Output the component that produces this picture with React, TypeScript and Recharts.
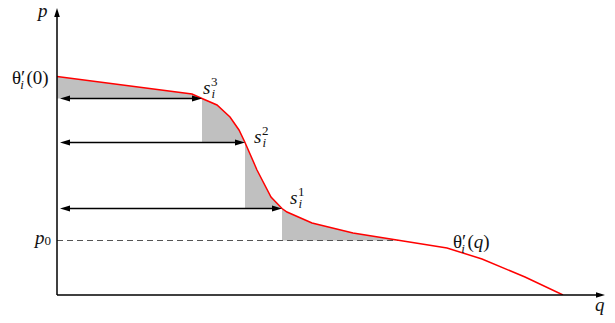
import React from 'react';
import { ComposedChart, Area, Line, XAxis, YAxis, ReferenceLine, ReferenceDot } from 'recharts';

// marginal valuation curve θ'_i(q), sampled along q
const CURVE_Q = [0, 2.7, 2.9, 3.2, 3.46, 3.64, 3.76, 4.0, 4.28, 4.5, 4.6, 5.1, 5.92, 6.86, 7.8, 8.5, 9.36, 10.12];
const CURVE_P = [4.37, 4.02, 3.93, 3.8, 3.56, 3.3, 3.05, 2.5, 1.96, 1.73, 1.66, 1.44, 1.24, 1.09, 0.94, 0.72, 0.36, 0];

// bid steps s_i^1, s_i^2, s_i^3
const STEP_Q = [4.5, 3.76, 2.9];
const STEP_P = [1.73, 3.05, 3.93];
const STEP_NAMES = ['1', '2', '3'];

const P0 = 1.09;
const Q_MAX = 10.96;
const P_MAX = 5.74;

const FONT = "'Times New Roman', Times, 'Liberation Serif', 'DejaVu Serif', serif";
const LABEL_OFFSETS = [[8, -5], [9, 0], [1, -5]];

// q where the curve meets p0
const p0Q = CURVE_Q[CURVE_P.findIndex((p) => p <= P0)];

// shaded strips between the curve and each step level
const bands: { from: number; to: number; base: number }[] = [];
let from = 0;
[2, 1, 0].forEach((i) => {
  bands.push({ from, to: STEP_Q[i], base: STEP_P[i] });
  from = STEP_Q[i];
});
bands.push({ from, to: p0Q, base: P0 });

const data = CURVE_Q.map((q, i) => {
  const row: any = { q, p: CURVE_P[i] };
  bands.forEach((b, k) => {
    if (q >= b.from - 1e-9 && q <= b.to + 1e-9) row[`band${k}`] = [b.base, CURVE_P[i]];
  });
  return row;
});

const head = (tx: number, ty: number, ux: number, uy: number, len: number, half: number) => {
  const bx = tx - ux * len;
  const by = ty - uy * len;
  return `${tx},${ty} ${bx - uy * half},${by + ux * half} ${bx + uy * half},${by - ux * half}`;
};

const ArrowLine = (props: any) => {
  const { x1, y1, x2, y2, both, width = 1.3, len = 10, half = 3, inset = 0 } = props;
  const d = Math.hypot(x2 - x1, y2 - y1) || 1;
  const ux = (x2 - x1) / d;
  const uy = (y2 - y1) / d;
  const sx = x1 + ux * inset;
  const sy = y1 + uy * inset;
  return (
    <g>
      <line
        x1={both ? sx + ux * (len - 2) : x1}
        y1={both ? sy + uy * (len - 2) : y1}
        x2={x2 - ux * (len - 2)}
        y2={y2 - uy * (len - 2)}
        stroke="#000"
        strokeWidth={width}
      />
      <polygon points={head(x2, y2, ux, uy, len, half)} fill="#000" />
      {both && <polygon points={head(sx, sy, -ux, -uy, len, half)} fill="#000" />}
    </g>
  );
};

const ital = { fontStyle: 'italic' as const };

const TextAt = ({ cx, cy, dx, dy, children }: any) => (
  <text x={cx + dx} y={cy + dy} fontFamily={FONT} fontSize={19} fill="#111">
    {children}
  </text>
);

const Theta = ({ arg, italicArg }: { arg: string; italicArg?: boolean }) => (
  <>
    <tspan>θ</tspan>
    <tspan>′</tspan>
    <tspan dx={-5} dy={5} fontSize={13} style={ital}>i</tspan>
    <tspan dx={2.5} dy={-5}>(</tspan>
    <tspan style={italicArg ? ital : undefined}>{arg}</tspan>
    <tspan>)</tspan>
  </>
);

export default function App() {
  return (
    <div style={{ position: 'absolute', left: 0, top: 0, background: '#fff', fontFamily: FONT }}>
      <ComposedChart width={615} height={323} data={data} margin={{ top: 8, right: 10, left: 57, bottom: 28 }}>
        <XAxis type="number" dataKey="q" domain={[0, Q_MAX]} allowDataOverflow hide />
        <YAxis type="number" domain={[0, P_MAX]} allowDataOverflow hide />
        {bands.map((b, k) => (
          <Area
            key={k}
            type="linear"
            dataKey={`band${k}`}
            stroke="none"
            fill="#c0c0c0"
            fillOpacity={1}
            activeDot={false}
            isAnimationActive={false}
          />
        ))}
        <ReferenceLine
          segment={[{ x: 0, y: P0 }, { x: p0Q, y: P0 }]}
          stroke="#555"
          strokeWidth={1.2}
          strokeDasharray="6 4"
        />
        <Line type="linear" dataKey="p" stroke="#ff0000" strokeWidth={1.5} dot={false} activeDot={false} isAnimationActive={false} />
        {STEP_Q.map((q, i) => (
          <ReferenceLine
            key={`arr${i}`}
            segment={[{ x: 0, y: STEP_P[i] }, { x: q, y: STEP_P[i] }]}
            shape={(p: any) => <ArrowLine {...p} both inset={3} />}
          />
        ))}
        <ReferenceLine
          segment={[{ x: 0, y: 0 }, { x: Q_MAX, y: 0 }]}
          shape={(p: any) => <ArrowLine {...p} width={1.5} len={9} half={2.8} />}
        />
        <ReferenceLine
          segment={[{ x: 0, y: 0 }, { x: 0, y: P_MAX }]}
          shape={(p: any) => <ArrowLine {...p} width={1.5} len={9} half={2.8} />}
        />
        {STEP_Q.map((q, i) => (
          <ReferenceDot
            key={`lab${i}`}
            x={q}
            y={STEP_P[i]}
            r={0}
            shape={(p: any) => (
              <TextAt cx={p.cx} cy={p.cy} dx={LABEL_OFFSETS[i][0]} dy={LABEL_OFFSETS[i][1]}>
                <tspan style={ital}>s</tspan>
                <tspan dx={1} dy={4} fontSize={13} style={ital}>i</tspan>
                <tspan dx={-4} dy={-12} fontSize={13}>{STEP_NAMES[i]}</tspan>
              </TextAt>
            )}
          />
        ))}
        <ReferenceDot
          x={0}
          y={CURVE_P[0]}
          r={0}
          shape={(p: any) => (
            <TextAt cx={p.cx} cy={p.cy} dx={-45} dy={7}>
              <Theta arg="0" />
            </TextAt>
          )}
        />
        <ReferenceDot
          x={CURVE_Q[14]}
          y={CURVE_P[14]}
          r={0}
          shape={(p: any) => (
            <TextAt cx={p.cx} cy={p.cy} dx={6} dy={0}>
              <Theta arg="q" italicArg />
            </TextAt>
          )}
        />
        <ReferenceDot
          x={0}
          y={P0}
          r={0}
          shape={(p: any) => (
            <TextAt cx={p.cx} cy={p.cy} dx={-22} dy={3.5}>
              <tspan style={ital}>p</tspan>
              <tspan dy={1} fontSize={13}>0</tspan>
            </TextAt>
          )}
        />
        <ReferenceDot
          x={0}
          y={P_MAX}
          r={0}
          shape={(p: any) => (
            <TextAt cx={p.cx} cy={p.cy} dx={-19} dy={8.5}>
              <tspan style={ital}>p</tspan>
            </TextAt>
          )}
        />
        <ReferenceDot
          x={Q_MAX}
          y={0}
          r={0}
          shape={(p: any) => (
            <TextAt cx={p.cx} cy={p.cy} dx={-10} dy={16}>
              <tspan style={ital}>q</tspan>
            </TextAt>
          )}
        />
      </ComposedChart>
    </div>
  );
}
